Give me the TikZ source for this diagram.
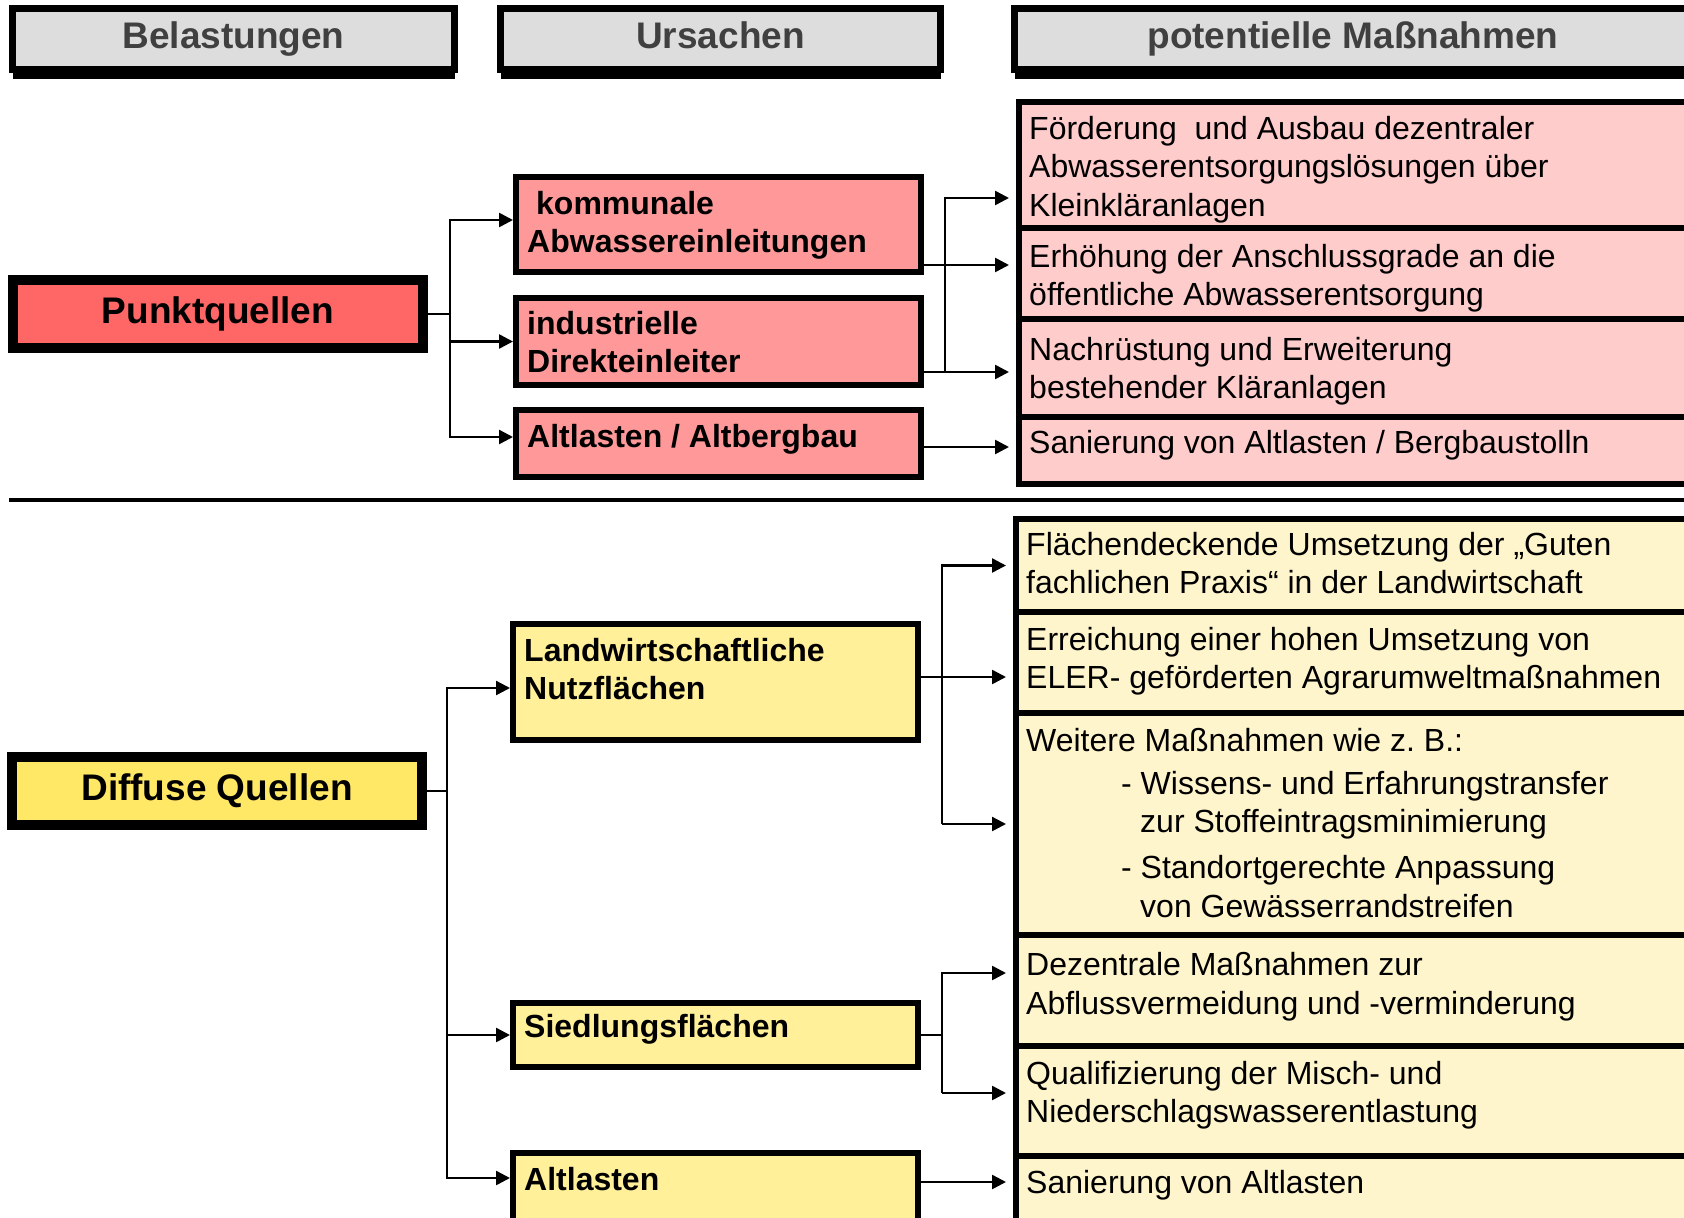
\documentclass[tikz,border=0pt]{standalone}
\usepackage{fontspec}
\setmainfont{Liberation Sans}
\usetikzlibrary{arrows.meta,shadows}

\definecolor{hdrgray}{HTML}{DDDDDD}
\definecolor{hdrtext}{HTML}{404040}
\definecolor{redmain}{HTML}{FF6666}
\definecolor{redcause}{HTML}{FF9999}
\definecolor{redmeas}{HTML}{FFCCCC}
\definecolor{yelmain}{HTML}{FFE866}
\definecolor{yelcause}{HTML}{FFF099}
\definecolor{yelmeas}{HTML}{FFF5CC}

\tikzset{
  hdr/.style={draw, line width=7pt, fill=hdrgray, text=hdrtext, minimum height=60.5pt,
    text height=27pt, text depth=8pt, font=\fontsize{37}{44}\selectfont\bfseries,
    drop shadow={shadow xshift=0pt, shadow yshift=-10pt, fill=black, opacity=1}},
  src/.style={draw, line width=10pt, minimum width=410pt, minimum height=68pt,
    text height=27pt, text depth=8pt, font=\fontsize{37}{44}\selectfont\bfseries},
  cause/.style={draw, line width=6pt, minimum width=405pt, anchor=north west},
  meas/.style={draw, line width=6pt, minimum width=676pt, anchor=north west},
  ctext/.style={anchor=north west, inner sep=0pt, align=left,
    font=\fontsize{32}{38.4}\selectfont\bfseries, execute at begin node=\strut},
  mtext/.style={anchor=north west, inner sep=0pt, align=left,
    font=\fontsize{32}{38.4}\selectfont, execute at begin node=\strut},
  conn/.style={line width=2.5pt},
  arr/.style={conn, -{Triangle[length=14pt,width=14pt]}},
  arrm/.style={arr, shorten >=7pt},
}

\begin{document}
\begin{tikzpicture}[x=1pt,y=-1pt]
\useasboundingbox (0,0) rectangle (1684,1218);
\clip (0,0) rectangle (1684,1218);
\fill[white] (0,0) rectangle (1684,1218);

\node[hdr, minimum width=442pt] (h1) at (233.5,38.75) {Belastungen};
\node[hdr, minimum width=440pt] (h2) at (720.5,38.75) {Ursachen};
\node[hdr, minimum width=677pt] (h3) at (1353,38.75) {potentielle Maßnahmen};

% Punktquellen
\node[src, fill=redmain] (pq) at (218,314) {Punktquellen};
\node[cause, fill=redcause, minimum height=95pt] (komm) at (513,174) {};
\node[cause, fill=redcause, minimum height=87pt] (indus) at (513,295) {};
\node[cause, fill=redcause, minimum height=67pt] (altb) at (513,407) {};
\node[ctext] (tkomm) at ([shift={(14,17)}]komm.north west) {\hspace*{9pt}kommunale\\Abwassereinleitungen};
\node[ctext] (tindus) at ([shift={(14,16)}]indus.north west) {industrielle\\Direkteinleiter};
\node[ctext] (taltb) at ([shift={(14,13)}]altb.north west) {Altlasten / Altbergbau};

\node[meas, fill=redmeas, minimum height=126pt] (m1) at (1016,99) {};
\node[meas, fill=redmeas, minimum height=91pt] (m2) at (1016,225) {};
\node[meas, fill=redmeas, minimum height=98pt] (m3) at (1016,316) {};
\node[meas, fill=redmeas, minimum height=67pt] (m4) at (1016,414) {};
\node[mtext] (tm1) at ([shift={(13,17)}]m1.north west) {Förderung\ \ und Ausbau dezentraler\\Abwasserentsorgungslösungen über\\Kleinkläranlagen};
\node[mtext] (tm2) at ([shift={(13,19)}]m2.north west) {Erhöhung der Anschlussgrade an die\\öffentliche Abwasserentsorgung};
\node[mtext] (tm3) at ([shift={(13,21)}]m3.north west) {Nachrüstung und Erweiterung\\bestehender Kläranlagen};
\node[mtext] (tm4) at ([shift={(13,12)}]m4.north west) {Sanierung von Altlasten / Bergbaustolln};

\coordinate (pj) at (450,314);
\coordinate (kj) at (945,0);
\path[draw,conn] (pq.east) -- (pj);
\path[draw,arr] (pj) |- ([yshift=4.5pt]komm.west);
\path[draw,arr] (pj) |- (indus.west);
\path[draw,arr] (pj) |- ([yshift=6.5pt]altb.west);

\coordinate (ko) at ([yshift=-40.5pt]komm.east);
\coordinate (io) at ([yshift=-30.5pt]indus.east);
\coordinate (ao) at ([yshift=-3.5pt]altb.east);
\coordinate (m1i) at ([yshift=-33pt]m1.west);
\path[draw,arrm] (ko) -- (ko -| m2.west);
\path[draw,arrm] (io) -- (io -| m3.west);
\path[draw,arrm] (io -| kj) |- (m1i);
\path[draw,arrm] (ao) -- (ao -| m4.west);

\coordinate (sepL) at (9,500);
\coordinate (sepR) at (1684,500);
\path[draw,line width=4pt] (sepL) -- (sepR);

% Diffuse Quellen
\node[src, fill=yelmain] (dq) at (217,791) {Diffuse Quellen};
\node[cause, fill=yelcause, minimum height=116pt] (landw) at (510,621) {};
\node[cause, fill=yelcause, minimum height=64pt] (siedl) at (510,1000) {};
\node[cause, fill=yelcause, minimum height=107pt] (altl) at (510,1150) {};
\node[ctext] (tlandw) at ([shift={(14,17)}]landw.north west) {Landwirtschaftliche\\Nutzflächen};
\node[ctext] (tsiedl) at ([shift={(14,10)}]siedl.north west) {Siedlungsflächen};
\node[ctext] (taltl) at ([shift={(14,13)}]altl.north west) {Altlasten};

\node[meas, fill=yelmeas, minimum height=93pt] (n1) at (1013,516) {};
\node[meas, fill=yelmeas, minimum height=101pt] (n2) at (1013,609) {};
\node[meas, fill=yelmeas, minimum height=222pt] (n3) at (1013,710) {};
\node[meas, fill=yelmeas, minimum height=111pt] (n4) at (1013,932) {};
\node[meas, fill=yelmeas, minimum height=110pt] (n5) at (1013,1043) {};
\node[meas, fill=yelmeas, minimum height=104pt] (n6) at (1013,1153) {};
\node[mtext] (tn1) at ([shift={(13,16)}]n1.north west) {Flächendeckende Umsetzung der „Guten\\fachlichen Praxis“ in der Landwirtschaft};
\node[mtext] (tn2) at ([shift={(13,18)}]n2.north west) {Erreichung einer hohen Umsetzung von\\ELER- geförderten Agrarumweltmaßnahmen};
\node[mtext] (tn3) at ([shift={(13,18)}]n3.north west) {Weitere Maßnahmen wie z.\ B.:\\[4.6pt]
  \hspace*{95pt}- Wissens- und Erfahrungstransfer\\
  \hspace*{114pt}zur Stoffeintragsminimierung\\[7.6pt]
  \hspace*{95pt}- Standortgerechte Anpassung\\
  \hspace*{114pt}von Gewässerrandstreifen};
\node[mtext] (tn4) at ([shift={(13,20.5)}]n4.north west) {Dezentrale Maßnahmen zur\\Abflussvermeidung und -verminderung};
\node[mtext] (tn5) at ([shift={(13,18)}]n5.north west) {Qualifizierung der Misch- und\\Niederschlagswasserentlastung};
\node[mtext] (tn6) at ([shift={(13,13)}]n6.north west) {Sanierung von Altlasten};

\coordinate (dj) at (447,791);
\coordinate (lj) at (942,0);
\path[draw,conn] (dq.east) -- (dj);
\path[draw,arr] (dj) |- ([yshift=-6pt]landw.west);
\path[draw,arr] (dj) |- (siedl.west);
\path[draw,arr] (dj) |- ([yshift=28.5pt]altl.west);

\coordinate (lo) at ([yshift=5pt]landw.east);
\path[draw,arrm] (lo) -- (lo -| n2.west);
\path[draw,arrm] (n3.west -| lj) |- (n1.west);
\path[draw,arrm] (n3.west -| lj) -- (n3.west);

\coordinate (n4i) at ([yshift=17.5pt]n4.west);
\coordinate (n5i) at ([yshift=8pt]n5.west);
\path[draw,conn] (siedl.east) -- (siedl.east -| lj);
\path[draw,arrm] (n5i -| lj) |- (n4i);
\path[draw,arrm] (n5i -| lj) -- (n5i);

\coordinate (alo) at ([yshift=24.5pt]altl.east);
\path[draw,arrm] (alo) -- (alo -| n6.west);
\end{tikzpicture}
\end{document}
